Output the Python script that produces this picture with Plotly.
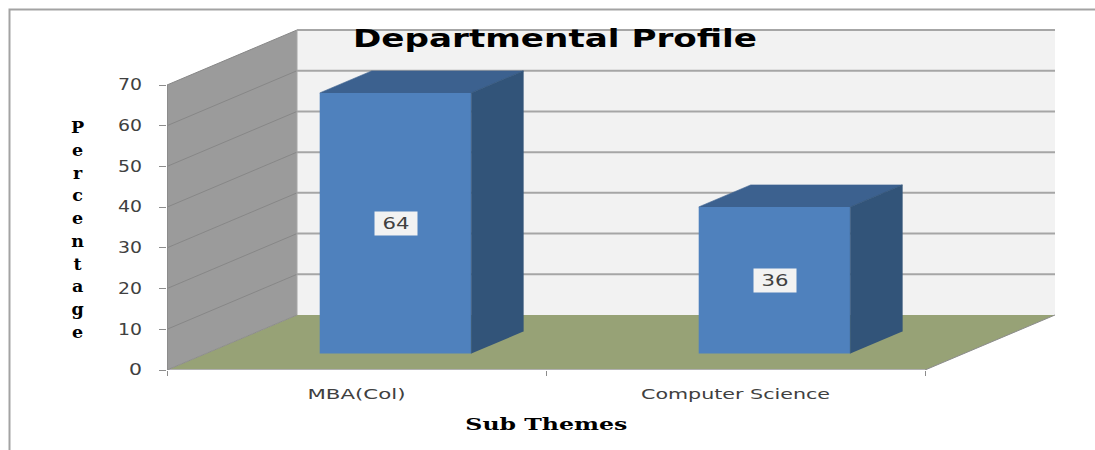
"""
Departmental Profile - 3D-Look Balken (schraege Projektion auf normalen Achsen)
"""
import json

import plotly.graph_objects as go

# Daten
categories = ["MBA(Col)", "Computer Science"]
cat_pos = [0, 1]
values = [64, 36]
y_ticks = [0, 10, 20, 30, 40, 50, 60, 70]
cat_edges = [-0.5, 0.5, 1.5]

# Pixelmasse der Vorlage
WIDTH, HEIGHT = 1095, 450
LEFT, RIGHT, TOP, BOTTOM = 167, 39, 20, 80
PX_PER_CAT = 379.0
PX_PER_UNIT = 285.0 / 70
PLOT_W = WIDTH - LEFT - RIGHT
PLOT_H = HEIGHT - TOP - BOTTOM

# Tiefe der "3D"-Box in Achseneinheiten
DEPTH_X = 130 / PX_PER_CAT
DEPTH_Y = 55 / PX_PER_UNIT
BAR_W = 0.4
BAR_FRONT, BAR_BACK = 0.3, 0.7

SANS = "DejaVu Sans"
SERIF = "DejaVu Serif"

# Die Vorlage ist horizontal gestreckt: Textbreiten in px
TEXT_WIDTHS = {
    "Departmental Profile": 404,
    "Sub Themes": 162,
    "MBA(Col)": 98,
    "Computer Science": 189,
    "64": 27,
    "36": 27,
    "70": 24,
    "60": 24,
    "50": 24,
    "40": 24,
    "30": 24,
    "20": 24,
    "10": 24,
    "0": 13,
}


def project(cat, value, depth=0.0):
    return cat + depth * DEPTH_X, value + depth * DEPTH_Y


def path(points):
    pts = [project(*p) for p in points]
    return "M " + " L ".join(f"{x:.4f},{y:.4f}" for x, y in pts) + " Z"


def px_x(px):
    return (px - LEFT) / PLOT_W


def px_y(px):
    return 1 - (px - TOP) / PLOT_H


x0, x1 = cat_edges[0], cat_edges[-1]
y_top = y_ticks[-1]

shapes = [
    # Seitenwand, Rueckwand, Boden
    dict(type="path", path=path([(x0, 0, 0), (x0, y_top, 0), (x0, y_top, 1), (x0, 0, 1)]),
         fillcolor="#9b9b9b", line_width=0, layer="below"),
    dict(type="path", path=path([(x0, 0, 1), (x0, y_top, 1), (x1, y_top, 1), (x1, 0, 1)]),
         fillcolor="#f2f2f2", line_width=0, layer="below"),
    dict(type="path", path=path([(x0, 0, 0), (x1, 0, 0), (x1, 0, 1), (x0, 0, 1)]),
         fillcolor="#97a276", line_width=0, layer="below"),
]

# Gitterlinien auf beiden Waenden
for v in y_ticks[1:]:
    xa, ya = project(x0, v, 0)
    xb, yb = project(x0, v, 1)
    xc, yc = project(x1, v, 1)
    shapes.append(dict(type="line", x0=xa, y0=ya, x1=xb, y1=yb,
                       line=dict(color="#878787", width=1), layer="below"))
    shapes.append(dict(type="line", x0=xb, y0=yb, x1=xc, y1=yc,
                       line=dict(color="#a6a6a6", width=2), layer="below"))

# Achsenlinien und Kanten
xa, ya = project(x1, 0, 0)
xb, yb = project(x1, 0, 1)
xc, yc = project(x0, 0, 1)
xd, yd = project(x0, y_top, 1)
shapes += [
    dict(type="line", x0=x0, y0=0, x1=x1, y1=0, line=dict(color="#b0b0b0", width=2), layer="below"),
    dict(type="line", x0=xa, y0=ya, x1=xb, y1=yb, line=dict(color="#8c8c8c", width=1), layer="below"),
    dict(type="line", x0=x0, y0=0, x1=x0, y1=y_top, line=dict(color="#8c8c8c", width=2), layer="below"),
    dict(type="line", x0=xc, y0=yc, x1=xd, y1=yd, line=dict(color="#a6a6a6", width=1), layer="below"),
    dict(type="line", x0=x0, y0=0, x1=xc, y1=yc, line=dict(color="#8c8c8c", width=1), layer="below"),
]

# Rahmen des Bildes (nur links und oben sichtbar)
shapes.append(dict(type="path", xref="paper", yref="paper",
                   path=f"M {px_x(9.5)},{px_y(450)} L {px_x(9.5)},{px_y(9.5)} L {px_x(1095)},{px_y(9.5)}",
                   line=dict(color="#a3a3a3", width=2)))

fig = go.Figure()

# Vorderseiten als echte Balken
front_x, front_base = project(0, 0, BAR_FRONT)
fig.add_trace(go.Bar(
    x=[c + front_x for c in cat_pos],
    y=values,
    base=front_base,
    width=BAR_W,
    marker=dict(color="#4f81bd", line_width=0),
    hovertemplate="%{customdata}: %{y}%<extra></extra>",
    customdata=categories,
))

# Ober- und Seitenflaechen (Linie in Flaechenfarbe schliesst die Naht zur Vorderseite)
for cat, val in zip(cat_pos, values):
    left, right = cat - BAR_W / 2, cat + BAR_W / 2
    top = [project(left, val, BAR_FRONT), project(left, val, BAR_BACK),
           project(right, val, BAR_BACK), project(right, val, BAR_FRONT)]
    side = [project(right, 0, BAR_FRONT), project(right, val, BAR_FRONT),
            project(right, val, BAR_BACK), project(right, 0, BAR_BACK)]
    for pts, col in ((top, "#3c618f"), (side, "#325479")):
        fig.add_trace(go.Scatter(
            x=[p[0] for p in pts], y=[p[1] for p in pts],
            mode="lines", fill="toself", fillcolor=col,
            line=dict(width=0.6, color=col), hoverinfo="skip",
        ))

annotations = []

# Wertelabels mittig auf der Vorderseite
for cat, val in zip(cat_pos, values):
    lx, ly = project(cat, val / 2, BAR_FRONT)
    annotations.append(dict(
        x=lx, y=ly, text=str(val), showarrow=False, bgcolor="#f2f2f2",
        width=42, height=23, borderpad=0,
        font=dict(family=SANS, size=15, color="#404040"),
    ))

annotations.append(dict(
    x=0.5, y=px_y(424), xref="x", yref="paper", yanchor="middle", text="Sub Themes", showarrow=False,
    font=dict(family=SERIF, size=17, color="#000000", weight="bold"),
))
annotations.append(dict(
    x=px_x(77), y=px_y(229), xref="paper", yref="paper", xanchor="center", yanchor="middle",
    text="<br>".join("Percentage"), showarrow=False,
    font=dict(family=SERIF, size=17.5, color="#000000", weight="bold"),
))

fig.update_layout(
    width=WIDTH,
    height=HEIGHT,
    margin=dict(l=LEFT, r=RIGHT, t=TOP, b=BOTTOM, pad=0),
    paper_bgcolor="#ffffff",
    plot_bgcolor="#ffffff",
    showlegend=False,
    barmode="overlay",
    title=dict(text="Departmental Profile", x=px_x(555), xref="paper", xanchor="center",
               y=px_y(39), yref="paper", yanchor="middle",
               font=dict(family=SANS, size=24, color="#000000", weight="bold")),
    shapes=shapes,
    annotations=annotations,
)

fig.update_xaxes(
    range=[x0, x0 + PLOT_W / PX_PER_CAT],
    tickmode="array",
    tickvals=cat_pos,
    ticktext=categories,
    ticks="",
    ticklabelstandoff=14,
    tickfont=dict(family=SANS, size=14, color="#404040"),
    showgrid=False,
    showline=False,
    zeroline=False,
    minor=dict(tickmode="array", tickvals=cat_edges, ticks="outside", ticklen=5,
               tickcolor="#8c8c8c", tickwidth=1, showgrid=False),
)
fig.update_yaxes(
    range=[0, PLOT_H / PX_PER_UNIT],
    tickmode="array",
    tickvals=y_ticks,
    ticks="outside",
    ticklen=7,
    tickcolor="#8c8c8c",
    tickwidth=1,
    ticklabelstandoff=14,
    tickfont=dict(family=SANS, size=15, color="#404040"),
    showgrid=False,
    showline=False,
    zeroline=False,
)

# Texte per textLength auf die Breite der gestreckten Vorlage bringen
post_script = """
document.body.style.margin = '0';
var gd = document.getElementById('{plot_id}');
var widths = %s;
function stretchTexts() {
    gd.querySelectorAll('svg text').forEach(function (t) {
        var w = widths[t.textContent];
        if (w) {
            t.setAttribute('textLength', w);
            t.setAttribute('lengthAdjust', 'spacingAndGlyphs');
        }
    });
}
gd.on('plotly_afterplot', stretchTexts);
stretchTexts();
""" % json.dumps(TEXT_WIDTHS)

fig.write_html("out.html", post_script=post_script, config={"displayModeBar": False})
